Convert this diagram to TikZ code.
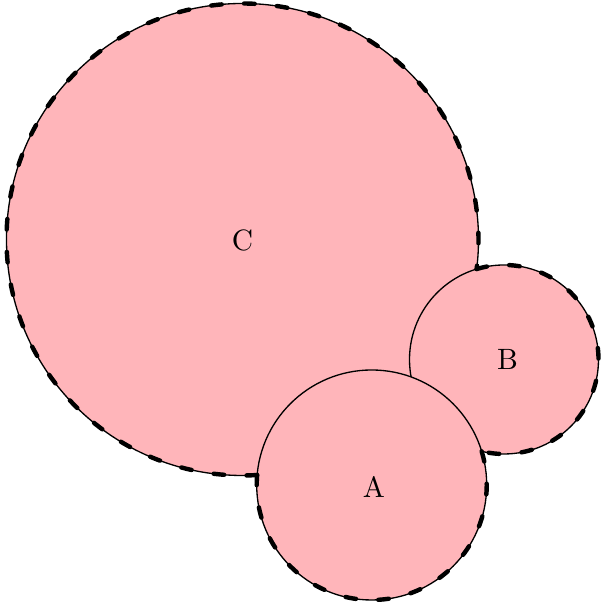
\documentclass[tikz,border=0pt]{standalone}
\definecolor{setpink}{RGB}{255,181,186}
\tikzset{
  setcircle/.style={circle, draw=black, line width=0.45pt, fill=setpink, inner sep=0pt},
  outerdash/.style={draw=black, line width=1.5pt, line cap=round, dash pattern=on 3.6pt off 7.6pt},
  setlabel/.style={font=\normalsize, inner sep=0pt}
}
\begin{document}
\begin{tikzpicture}[x=0.34pt, y=0.34pt]
\useasboundingbox (0,0) rectangle (605,602);
\node[setcircle, minimum size=160.48pt] (C) at (242.5,362.5) {};
\node[setcircle, minimum size=64.26pt] (B) at (504,242.5) {};
\node[setcircle, minimum size=78.2pt] (A) at (371.7,117) {};
% outer boundary, thick dashed
\draw[outerdash] (C.center) ++(-86.45:80.24pt) arc[start angle=-86.45, end angle=-367.19, radius=80.24pt];
\draw[outerdash] (B.center) ++(-253.16:32.13pt) arc[start angle=-253.16, end angle=-463.68, radius=32.13pt];
\draw[outerdash] (A.center) ++(17.04:39.1pt) arc[start angle=17.04, end angle=-184.96, radius=39.1pt];
\node[setlabel] (lC) at (242.5,362) {C};
\node[setlabel] (lB) at (507.5,242.5) {B};
\node[setlabel] (lA) at (374,115) {A};
\end{tikzpicture}
\end{document}
